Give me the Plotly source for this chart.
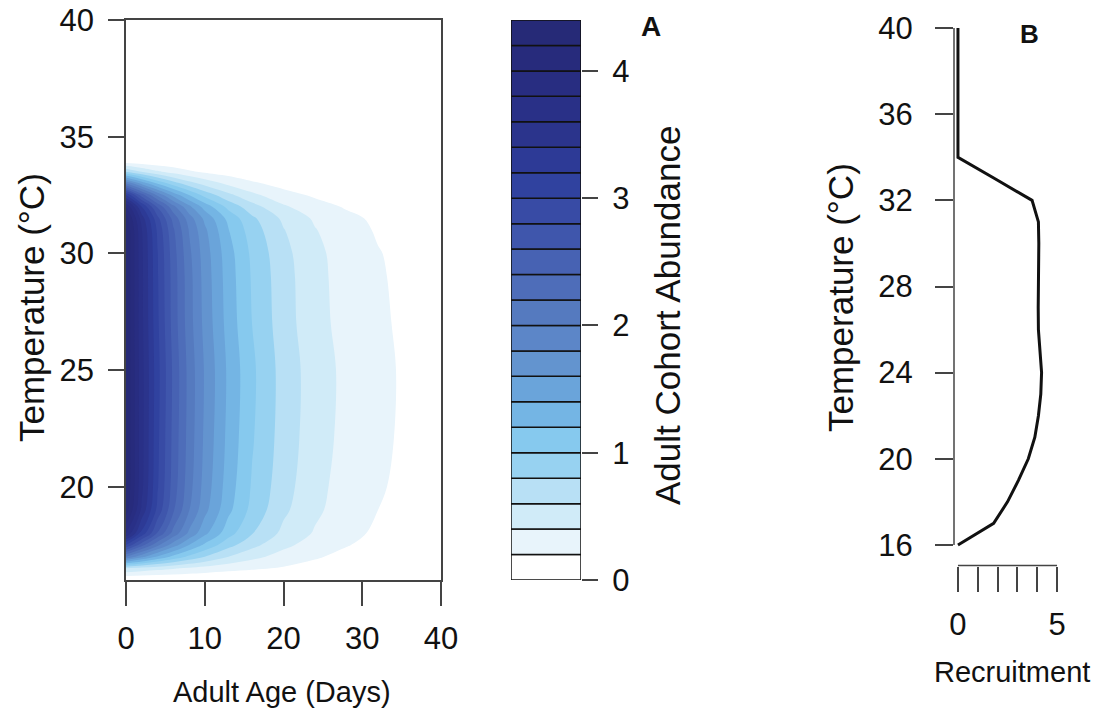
import plotly.graph_objects as go

# ---------------- data ----------------
# Panel A: adult cohort abundance over adult age (days) and temperature (°C)
ages = [0, 2, 4, 6, 8, 10, 13, 16, 20, 24, 28, 32, 36, 40]
temps = [16, 16.5, 17, 17.5, 18, 19, 20, 22, 25, 27, 29, 30, 31, 31.5, 32, 32.5, 33, 33.5, 34, 40]
abundance = [
    [0.00, 0.00, 0.00, 0.00, 0.00, 0.00, 0.00, 0.00, 0.00, 0.00, 0.00, 0.00, 0.00, 0.00],  # 16
    [0.60, 0.53, 0.47, 0.42, 0.37, 0.33, 0.27, 0.23, 0.18, 0.14, 0.11, 0.09, 0.07, 0.05],  # 16.5
    [2.00, 1.66, 1.38, 1.15, 0.96, 0.80, 0.60, 0.46, 0.32, 0.22, 0.15, 0.11, 0.07, 0.05],  # 17
    [3.00, 2.48, 2.05, 1.70, 1.40, 1.16, 0.87, 0.66, 0.45, 0.31, 0.21, 0.14, 0.10, 0.07],  # 17.5
    [3.80, 3.13, 2.58, 2.13, 1.76, 1.45, 1.08, 0.81, 0.55, 0.38, 0.25, 0.17, 0.12, 0.08],  # 18
    [4.30, 3.55, 2.94, 2.43, 2.01, 1.66, 1.25, 0.94, 0.64, 0.44, 0.30, 0.20, 0.14, 0.10],  # 19
    [4.40, 3.65, 3.02, 2.51, 2.08, 1.72, 1.30, 0.98, 0.68, 0.46, 0.32, 0.22, 0.15, 0.10],  # 20
    [4.40, 3.67, 3.05, 2.54, 2.12, 1.76, 1.34, 1.02, 0.71, 0.49, 0.34, 0.24, 0.16, 0.11],  # 22
    [4.40, 3.67, 3.07, 2.56, 2.13, 1.78, 1.36, 1.04, 0.72, 0.50, 0.35, 0.24, 0.17, 0.12],  # 25
    [4.40, 3.65, 3.04, 2.52, 2.09, 1.74, 1.32, 1.00, 0.69, 0.47, 0.33, 0.23, 0.16, 0.11],  # 27
    [4.40, 3.65, 3.02, 2.51, 2.08, 1.72, 1.30, 0.98, 0.68, 0.46, 0.32, 0.22, 0.15, 0.10],  # 29
    [4.40, 3.64, 3.01, 2.49, 2.05, 1.70, 1.28, 0.96, 0.66, 0.45, 0.31, 0.21, 0.14, 0.10],  # 30
    [4.40, 3.61, 2.96, 2.43, 1.99, 1.64, 1.21, 0.90, 0.61, 0.41, 0.28, 0.18, 0.12, 0.08],  # 31
    [4.30, 3.50, 2.86, 2.33, 1.90, 1.55, 1.14, 0.84, 0.56, 0.37, 0.25, 0.16, 0.11, 0.07],  # 31.5
    [4.00, 3.20, 2.57, 2.06, 1.65, 1.32, 0.94, 0.68, 0.43, 0.28, 0.18, 0.11, 0.07, 0.05],  # 32
    [3.20, 2.50, 1.96, 1.53, 1.20, 0.93, 0.65, 0.45, 0.27, 0.17, 0.10, 0.06, 0.04, 0.02],  # 32.5
    [2.00, 1.53, 1.17, 0.89, 0.68, 0.52, 0.35, 0.23, 0.13, 0.08, 0.05, 0.03, 0.02, 0.01],  # 33
    [0.80, 0.59, 0.43, 0.32, 0.23, 0.17, 0.11, 0.07, 0.04, 0.02, 0.01, 0.01, 0.00, 0.00],  # 33.5
    [0.00, 0.00, 0.00, 0.00, 0.00, 0.00, 0.00, 0.00, 0.00, 0.00, 0.00, 0.00, 0.00, 0.00],  # 34
    [0.00, 0.00, 0.00, 0.00, 0.00, 0.00, 0.00, 0.00, 0.00, 0.00, 0.00, 0.00, 0.00, 0.00],  # 40
]

# Colour key: band edges and band colours
band_edges = [0.0, 0.2, 0.4, 0.6, 0.8, 1.0, 1.2, 1.4, 1.6, 1.8, 2.0, 2.2,
              2.4, 2.6, 2.8, 3.0, 3.2, 3.4, 3.6, 3.8, 4.0, 4.2, 4.4]
band_colors = ["#FFFFFF", "#E8F4FB", "#D0EBF8", "#B8E0F5", "#97D2F1", "#86C9EE",
               "#74B5E4", "#6AA4DA", "#6394CF", "#5C86C8", "#557ABF", "#4E6DB9",
               "#4762B3", "#3F56AC", "#384BA5", "#30429F", "#2D3A96", "#2B348C",
               "#293087", "#282D81", "#272B7C", "#262A77"]
key_ticks = [0, 1, 2, 3, 4]

# Panel B: recruitment vs temperature
temp_B = [16, 17, 18, 19, 20, 21, 22, 23, 24, 25, 26, 27, 28, 29, 30, 31, 32, 33, 34,
          35, 36, 37, 38, 39, 40]
recruit = [0.0, 1.8, 2.5, 3.05, 3.55, 3.88, 4.06, 4.18, 4.22, 4.15, 4.06, 4.05, 4.07,
           4.08, 4.08, 4.06, 3.74, 1.87, 0.0, 0.0, 0.0, 0.0, 0.0, 0.0, 0.0]
tempB_ticks = [16, 20, 24, 28, 32, 36, 40]
recruit_ticks = [0, 1, 2, 3, 4, 5]
recruit_labels = ["0", "", "", "", "", "5"]

ageA_ticks = [0, 10, 20, 30, 40]
tempA_ticks = [20, 25, 30, 35, 40]

# ---------------- figure ----------------
W, H = 1105, 713
FONT = "Liberation Sans, Arial, Helvetica, sans-serif"
AX = "#444444"
TXT = "#111111"


def px(x):
    return x / W


def py(y):
    return 1 - y / H


n_bands = len(band_colors)
colorscale = [[k / (n_bands - 1), c] for k, c in enumerate(band_colors)]
step = band_edges[1] - band_edges[0]

fig = go.Figure()

fig.add_trace(go.Contour(
    x=ages, y=temps, z=abundance,
    autocontour=False,
    contours=dict(start=band_edges[1], end=band_edges[-2], size=step, coloring="fill"),
    colorscale=colorscale,
    line=dict(width=0, smoothing=1.0),
    showscale=False,
    hoverinfo="skip",
    xaxis="x", yaxis="y",
))

heights = [band_edges[i + 1] - band_edges[i] for i in range(n_bands)]
fig.add_trace(go.Bar(
    x=[0] * n_bands, y=heights, base=band_edges[:-1],
    width=1.0,
    marker=dict(color=band_colors, line=dict(color="#111111", width=1.5)),
    hoverinfo="skip",
    xaxis="x2", yaxis="y2",
))

fig.add_trace(go.Scatter(
    x=recruit, y=temp_B, mode="lines",
    line=dict(color="#111111", width=3),
    hoverinfo="skip",
    xaxis="x3", yaxis="y3",
))

tickfont = dict(family=FONT, size=31, color=TXT)

fig.update_layout(
    width=W, height=H,
    margin=dict(l=0, r=0, t=0, b=0, autoexpand=False),
    paper_bgcolor="white", plot_bgcolor="white",
    showlegend=False,
    barmode="overlay",
    font=dict(family=FONT, color=TXT),
    xaxis=dict(
        domain=[px(126), px(441)], range=[0, 40], anchor="y", automargin=False,
        tickvals=ageA_ticks, ticks="outside", ticklen=24, tickwidth=1.5, tickcolor=AX,
        showline=True, mirror=True, linecolor=AX, linewidth=1.5,
        showgrid=False, zeroline=False, tickfont=tickfont, ticklabelstandoff=6,
    ),
    yaxis=dict(
        domain=[py(580), py(20)], range=[16, 40], anchor="x", automargin=False,
        tickvals=tempA_ticks, ticks="outside", ticklen=16, tickwidth=1.5, tickcolor=AX,
        showline=True, mirror=True, linecolor=AX, linewidth=1.5,
        showgrid=False, zeroline=False, tickfont=tickfont, ticklabelstandoff=8,
    ),
    xaxis2=dict(
        domain=[px(511), px(581)], range=[-0.5, 0.5], anchor="y2", automargin=False,
        visible=False, fixedrange=True,
    ),
    yaxis2=dict(
        domain=[py(580), py(20)], range=[band_edges[0], band_edges[-1]], anchor="x2",
        automargin=False,
        side="right", tickvals=key_ticks, ticks="outside", ticklen=16, tickwidth=1.5,
        tickcolor=AX, showline=False, showgrid=False, zeroline=False,
        tickfont=tickfont, ticklabelstandoff=8,
    ),
    xaxis3=dict(
        domain=[px(954), px(1061)], range=[-0.2, 5.2], anchor="y3", automargin=False,
        tickvals=recruit_ticks, ticktext=recruit_labels,
        ticks="outside", ticklen=25, tickwidth=1.5, tickcolor=AX,
        showline=False, showgrid=False, zeroline=False,
        tickfont=tickfont, ticklabelstandoff=6,
    ),
    yaxis3=dict(
        domain=[py(565.6), py(7.4)], range=[15.04, 40.96], anchor="x3", automargin=False,
        tickvals=tempB_ticks, ticks="outside", ticklen=18, tickwidth=1.5, tickcolor=AX,
        showline=False, showgrid=False, zeroline=False,
        tickfont=tickfont, ticklabelstandoff=16,
    ),
)

# Panel B axis lines, spanning only the tick range (base-graphics style)
fig.add_shape(type="line", xref="x3 domain", yref="y3",
              x0=0, x1=0, y0=tempB_ticks[0], y1=tempB_ticks[-1],
              line=dict(color=AX, width=1.5))
fig.add_shape(type="line", xref="x3", yref="y3 domain",
              x0=recruit_ticks[0], x1=recruit_ticks[-1], y0=0, y1=0,
              line=dict(color=AX, width=1.5))

htitle = dict(family=FONT, size=29, color=TXT)
vtitle = dict(family=FONT, size=35, color=TXT)
ann = [
    dict(text="Adult Age (Days)", x=px(282), y=py(692), textangle=0, font=htitle),
    dict(text="Temperature (°C)", x=px(31), y=py(308), textangle=-90, font=vtitle),
    dict(text="Adult Cohort Abundance", x=px(667), y=py(316), textangle=-90, font=vtitle),
    dict(text="Temperature (°C)", x=px(840), y=py(298), textangle=-90, font=vtitle),
    dict(text="Recruitment", x=px(1012), y=py(672), textangle=0, font=htitle),
    dict(text="<b>A</b>", x=px(651), y=py(27), textangle=0,
         font=dict(family=FONT, size=28, color=TXT)),
    dict(text="<b>B</b>", x=px(1029), y=py(34), textangle=0,
         font=dict(family=FONT, size=26, color=TXT)),
]
for a in ann:
    fig.add_annotation(xref="paper", yref="paper", showarrow=False,
                       xanchor="center", yanchor="middle", **a)

fig.write_html("out.html")
